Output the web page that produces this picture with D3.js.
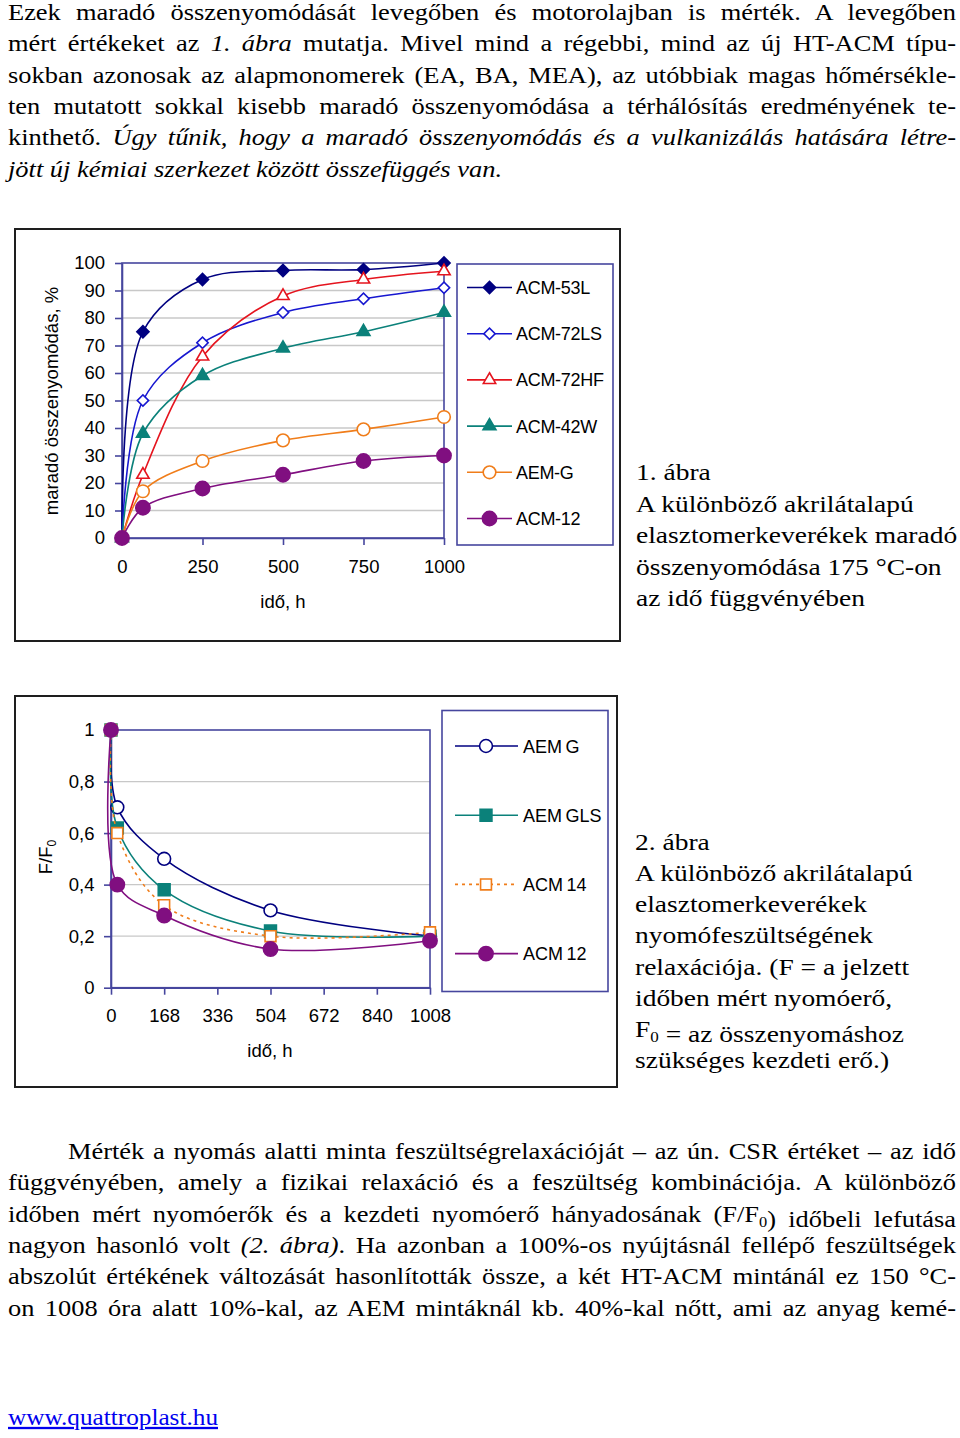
<!DOCTYPE html>
<html><head><meta charset="utf-8">
<script src="https://cdn.jsdelivr.net/npm/d3@7"></script>
<style>html,body{margin:0;padding:0;background:#fff;} text{white-space:pre;}</style>
</head><body>
<script>
// ---------- DATA: chart 1 (maradó összenyomódás, %) ----------
const hours1 = [0, 65, 250, 500, 750, 1000];
const acm53L = [0, 75, 94, 97.3, 97.6, 100];
const acm72LS = [0, 50, 71, 82, 87, 91];
const acm72HF = [0, 23, 66, 88, 94, 97];
const acm42W = [0, 38, 59, 69, 75, 82];
const aemG1 = [0, 17, 28, 35.5, 39.5, 44];
const acm12a = [0, 11, 18, 23, 28, 30];
const series1Names = ["ACM-53L", "ACM-72LS", "ACM-72HF", "ACM-42W", "AEM-G", "ACM-12"];
const x1Ticks = [0, 250, 500, 750, 1000];
const y1Ticks = [0, 10, 20, 30, 40, 50, 60, 70, 80, 90, 100];

// ---------- DATA: chart 2 (F/F0) ----------
const hours2 = [0, 20, 168, 504, 1008];
const aemG2 = [1, 0.70, 0.50, 0.30, 0.20];
const aemGLS = [1, 0.62, 0.38, 0.22, 0.20];
const acm14 = [1, 0.60, 0.32, 0.20, 0.215];
const acm12b = [1, 0.40, 0.28, 0.15, 0.182];
const series2Names = ["AEM G", "AEM GLS", "ACM 14", "ACM 12"];
const x2Ticks = [0, 168, 336, 504, 672, 840, 1008];
const y2Ticks = [0, 0.2, 0.4, 0.6, 0.8, 1];
const y2TickLabels = ["0", "0,2", "0,4", "0,6", "0,8", "1"];

// ---------- TEXT ----------
const para1 = [
  [{t:"Ezek maradó összenyomódását levegőben és motorolajban is mérték. A levegőben"}],
  [{t:"mért értékeket az "},{t:"1. ábra",i:1},{t:" mutatja. Mivel mind a régebbi, mind az új HT-ACM típu-"}],
  [{t:"sokban azonosak az alapmonomerek (EA, BA, MEA), az utóbbiak magas hőmérsékle-"}],
  [{t:"ten mutatott sokkal kisebb maradó összenyomódása a térhálósítás eredményének te-"}],
  [{t:"kinthető. "},{t:"Úgy tűnik, hogy a maradó összenyomódás és a vulkanizálás hatására létre-",i:1}],
  [{t:"jött új kémiai szerkezet között összefüggés van.",i:1}]
];
const para2 = [
  [{t:"Mérték a nyomás alatti minta feszültségrelaxációját – az ún. CSR értéket – az idő"}],
  [{t:"függvényében, amely a fizikai relaxáció és a feszültség kombinációja. A különböző"}],
  [{t:"időben mért nyomóerők és a kezdeti nyomóerő hányadosának (F/F"},{t:"0",sub:1},{t:") időbeli lefutása"}],
  [{t:"nagyon hasonló volt "},{t:"(2. ábra)",i:1},{t:". Ha azonban a 100%-os nyújtásnál fellépő feszültségek"}],
  [{t:"abszolút értékének változását hasonlították össze, a két HT-ACM mintánál ez 150 °C-"}],
  [{t:"on 1008 óra alatt 10%-kal, az AEM mintáknál kb. 40%-kal nőtt, ami az anyag kemé-"}]
];
const caption1 = [
  [{t:"1. ábra"}],
  [{t:"A különböző akrilátalapú"}],
  [{t:"elasztomerkeverékek maradó"}],
  [{t:"összenyomódása 175 °C-on"}],
  [{t:"az idő függvényében"}]
];
const caption2 = [
  [{t:"2. ábra"}],
  [{t:"A különböző akrilátalapú"}],
  [{t:"elasztomerkeverékek"}],
  [{t:"nyomófeszültségének"}],
  [{t:"relaxációja. (F = a jelzett"}],
  [{t:"időben mért nyomóerő,"}],
  [{t:"F"},{t:"0",sub:1},{t:" = az összenyomáshoz"}],
  [{t:"szükséges kezdeti erő.)"}]
];

const SERIF = "'Liberation Serif','Times New Roman',Times,serif";
const SANS = "'Liberation Sans',Arial,Helvetica,sans-serif";
const AXIS = "#46469e", GRID = "#c8c8c8", FRAME = "#1e1e1e";

const svg = d3.select("body").append("svg").attr("width", 960).attr("height", 1438)
  .style("display", "block");
svg.append("rect").attr("width", 960).attr("height", 1438).attr("fill", "#fff");

// text line with horizontal stretch (sx) and optional justification to a width
function textLine(g, x, y, segs, opts) {
  const fs = opts.size, sx = opts.sx || 1;
  const t = g.append("text").attr("transform", `translate(${x},${y}) scale(${sx},1)`)
    .style("font-family", SERIF).style("font-size", fs + "px").attr("fill", opts.fill || "#000");
  segs.forEach(s => {
    if (s.sub) {
      t.append("tspan").attr("dy", fs * 0.22).style("font-size", (fs * 0.62) + "px").text(s.t);
      t.append("tspan").attr("dy", -fs * 0.22).text("");
    } else {
      const ts = t.append("tspan").text(s.t);
      if (s.i) ts.style("font-style", "italic");
    }
  });
  if (opts.width) {
    const target = opts.width / sx;
    const w = t.node().getComputedTextLength();
    const full = segs.map(s => s.t).join("");
    const n = (full.match(/ /g) || []).length;
    if (n > 0) t.style("word-spacing", ((target - w) / n) + "px");
  }
  return t;
}

const PS = 23, PX = 1.15;   // paragraph font size and horizontal stretch
const pg = svg.append("g");
para1.forEach((segs, i) => {
  textLine(pg, 8, 20 + i * 31.3, segs, {size: PS, sx: PX, width: i < para1.length - 1 ? 948 : null});
});
para2.forEach((segs, i) => {
  const x = i === 0 ? 68 : 8;
  textLine(pg, x, 1159 + i * 31.3, segs, {size: PS, sx: PX, width: 956 - x});
});
// link
const link = pg.append("text").attr("transform", `translate(8,1425) scale(${PX},1)`)
  .style("font-family", SERIF).style("font-size", PS + "px").attr("fill", "#0000ee")
  .attr("text-decoration", "underline").text("www.quattroplast.hu");
link.attr("textLength", 210 / PX).attr("lengthAdjust", "spacingAndGlyphs");

// captions
caption1.forEach((segs, i) => textLine(pg, 636, 480 + i * 31.6, segs, {size: 23.7, sx: 1.16}));
caption2.forEach((segs, i) => textLine(pg, 635, 849.5 + i * 31.25, segs, {size: 23.7, sx: 1.16}));

// ---------- marker helper ----------
function marker(g, type, cx, cy, color, filled, size) {
  let sym;
  let rot = 0;
  if (type === "diamond") { sym = d3.symbolSquare; rot = 45; }
  else if (type === "triangle") sym = d3.symbolTriangle;
  else if (type === "square") sym = d3.symbolSquare;
  else sym = d3.symbolCircle;
  g.append("path").attr("d", d3.symbol(sym, size)())
    .attr("transform", `translate(${cx},${cy}) rotate(${rot})`)
    .attr("fill", filled ? color : "#fff").attr("stroke", color).attr("stroke-width", 1.6);
}

function styleAxis(sel) {
  sel.select(".domain").attr("stroke", AXIS).attr("stroke-width", 1.6);
  sel.selectAll(".tick line").attr("stroke", AXIS).attr("stroke-width", 1.6);
  sel.selectAll(".tick text").attr("fill", "#000").style("font-family", SANS).style("font-size", "18.5px");
}

// ================= CHART 1 =================
const c1 = svg.append("g");
c1.append("rect").attr("x", 15).attr("y", 229).attr("width", 605).attr("height", 412)
  .attr("fill", "#fff").attr("stroke", FRAME).attr("stroke-width", 2);

const x1 = d3.scaleLinear().domain([0, 1000]).range([122, 444]);
const y1 = d3.scaleLinear().domain([0, 100]).range([538, 263]);

c1.append("g").selectAll("line").data(y1Ticks.filter(d => d > 0 && d < 100)).join("line")
  .attr("x1", x1(0)).attr("x2", x1(1000)).attr("y1", d => y1(d)).attr("y2", d => y1(d))
  .attr("stroke", GRID).attr("stroke-width", 1.3);
c1.append("rect").attr("x", x1(0)).attr("y", y1(100)).attr("width", x1(1000) - x1(0))
  .attr("height", y1(0) - y1(100)).attr("fill", "none").attr("stroke", AXIS).attr("stroke-width", 1.6);

c1.append("g").attr("transform", `translate(0,${y1(0)})`)
  .call(d3.axisBottom(x1).tickValues(x1Ticks).tickFormat(d3.format("d")).tickSize(7).tickSizeOuter(0).tickPadding(14.5))
  .call(styleAxis);
c1.append("g").attr("transform", `translate(${x1(0)},0)`)
  .call(d3.axisLeft(y1).tickValues(y1Ticks).tickFormat(d3.format("d")).tickSize(7).tickSizeOuter(0).tickPadding(10))
  .call(styleAxis);

c1.append("text").attr("transform", "translate(57.5,401) rotate(-90)").attr("text-anchor", "middle")
  .style("font-family", SANS).style("font-size", "18.5px").text("maradó összenyomódás, %");
c1.append("text").attr("x", 283).attr("y", 607.5).attr("text-anchor", "middle")
  .style("font-family", SANS).style("font-size", "18.5px").text("idő, h");

const s1Values = [acm53L, acm72LS, acm72HF, acm42W, aemG1, acm12a];
const s1Style = [
  {c: "#000080", m: "diamond", f: true, s: 74},
  {c: "#1717d0", m: "diamond", f: false, s: 64},
  {c: "#e5141e", m: "triangle", f: false, s: 66},
  {c: "#0b817a", m: "triangle", f: true, s: 72},
  {c: "#f07d1a", m: "circle", f: false, s: 125},
  {c: "#800f80", m: "circle", f: true, s: 160}
];
const line1 = d3.line().x((d, i) => x1(hours1[i])).y(d => y1(d)).curve(d3.curveCatmullRom.alpha(0.5));
s1Values.forEach((vals, k) => {
  const st = s1Style[k];
  const g = c1.append("g");
  g.append("path").attr("d", line1(vals)).attr("fill", "none").attr("stroke", st.c).attr("stroke-width", 1.6);
  vals.forEach((v, i) => marker(g, st.m, x1(hours1[i]), y1(v), st.c, st.f, st.s));
});

// legend 1
const lg1 = c1.append("g");
lg1.append("rect").attr("x", 457).attr("y", 264).attr("width", 156).attr("height", 281)
  .attr("fill", "#fff").attr("stroke", AXIS).attr("stroke-width", 1.6);
series1Names.forEach((name, k) => {
  const st = s1Style[k];
  const yy = 287.5 + k * 46.2;
  lg1.append("line").attr("x1", 467).attr("x2", 512).attr("y1", yy).attr("y2", yy)
    .attr("stroke", st.c).attr("stroke-width", 1.6);
  marker(lg1, st.m, 489.5, yy, st.c, st.f, st.s);
  lg1.append("text").attr("x", 516).attr("y", yy + 6.5).style("font-family", SANS)
    .style("font-size", "18px").style("letter-spacing", "-0.3px").text(name);
});

// ================= CHART 2 =================
const c2 = svg.append("g");
c2.append("rect").attr("x", 15).attr("y", 696).attr("width", 602).attr("height", 391)
  .attr("fill", "#fff").attr("stroke", FRAME).attr("stroke-width", 2);

const x2 = d3.scaleLinear().domain([0, 1008]).range([111, 430]);
const y2 = d3.scaleLinear().domain([0, 1]).range([987.7, 730]);

c2.append("g").selectAll("line").data(y2Ticks.filter(d => d > 0 && d < 1)).join("line")
  .attr("x1", x2(0)).attr("x2", x2(1008)).attr("y1", d => y2(d)).attr("y2", d => y2(d))
  .attr("stroke", GRID).attr("stroke-width", 1.3);
c2.append("rect").attr("x", x2(0)).attr("y", y2(1)).attr("width", x2(1008) - x2(0))
  .attr("height", y2(0) - y2(1)).attr("fill", "none").attr("stroke", AXIS).attr("stroke-width", 1.6);

c2.append("g").attr("transform", `translate(0,${y2(0)})`)
  .call(d3.axisBottom(x2).tickValues(x2Ticks).tickFormat(d3.format("d")).tickSize(7).tickSizeOuter(0).tickPadding(13.7))
  .call(styleAxis);
c2.append("g").attr("transform", `translate(${x2(0)},0)`)
  .call(d3.axisLeft(y2).tickValues(y2Ticks).tickFormat((d, i) => y2TickLabels[i]).tickSize(7).tickSizeOuter(0).tickPadding(9.5))
  .call(styleAxis);

const yt2 = c2.append("text").attr("transform", "translate(52,857) rotate(-90)").attr("text-anchor", "middle")
  .style("font-family", SANS).style("font-size", "18.5px");
yt2.append("tspan").text("F/F");
yt2.append("tspan").attr("dy", 4).style("font-size", "12px").text("0");
c2.append("text").attr("x", 270).attr("y", 1056.5).attr("text-anchor", "middle")
  .style("font-family", SANS).style("font-size", "18.5px").text("idő, h");

const s2Values = [aemG2, aemGLS, acm14, acm12b];
const s2Style = [
  {c: "#000080", m: "circle", f: false, s: 130, dash: null},
  {c: "#0b817a", m: "square", f: true, s: 140, dash: null},
  {c: "#f07d1a", m: "square", f: false, s: 118, dash: "3,4"},
  {c: "#800f80", m: "circle", f: true, s: 160, dash: null}
];
const line2 = d3.line().x((d, i) => x2(hours2[i])).y(d => y2(d)).curve(d3.curveCatmullRom.alpha(0.5));
s2Values.forEach((vals, k) => {
  const st = s2Style[k];
  const g = c2.append("g");
  g.append("path").attr("d", line2(vals)).attr("fill", "none").attr("stroke", st.c)
    .attr("stroke-width", 1.6).attr("stroke-dasharray", st.dash);
  vals.forEach((v, i) => marker(g, st.m, x2(hours2[i]), y2(v), st.c, st.f, st.s));
});

// legend 2
const lg2 = c2.append("g");
lg2.append("rect").attr("x", 442).attr("y", 710.5).attr("width", 166).attr("height", 281)
  .attr("fill", "#fff").attr("stroke", AXIS).attr("stroke-width", 1.6);
series2Names.forEach((name, k) => {
  const st = s2Style[k];
  const yy = 746 + k * 69.2;
  lg2.append("line").attr("x1", 455).attr("x2", 518).attr("y1", yy).attr("y2", yy)
    .attr("stroke", st.c).attr("stroke-width", 1.6).attr("stroke-dasharray", st.dash);
  marker(lg2, st.m, 486, yy, st.c, st.f, st.s);
  lg2.append("text").attr("x", 523).attr("y", yy + 6.5).style("font-family", SANS)
    .style("font-size", "18px").style("word-spacing", "-1.5px").text(name);
});
</script>
</body></html>
